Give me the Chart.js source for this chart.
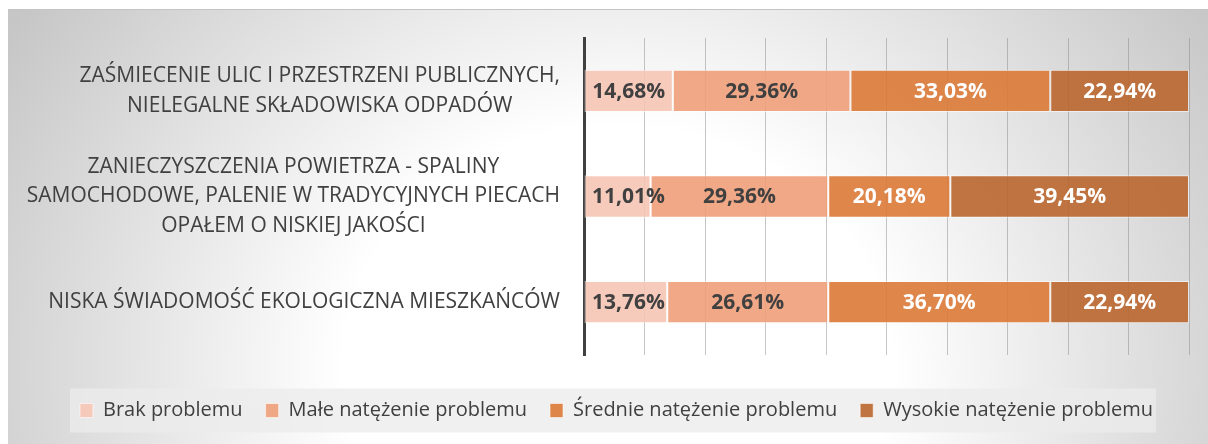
<!DOCTYPE html>
<html lang="pl">
<head>
<meta charset="utf-8">
<title>Problemy środowiskowe</title>
<script src="https://cdn.jsdelivr.net/npm/chart.js@4.4.1/dist/chart.umd.min.js"></script>
<style>
  html, body { margin: 0; padding: 0; background: #fff; }
  #wrap { position: relative; width: 1208px; height: 444px; overflow: hidden; }
  #bg {
    position: absolute; left: 8px; top: 9px; right: 0; bottom: 0;
    border-top: 1px solid #c4c4c4;
    background: radial-gradient(ellipse 720px 640px at 610px 360px, #ffffff 38%, #c6c6c6 100%);
  }
  canvas { position: absolute; left: 0; top: 0; }
</style>
</head>
<body>
<div id="wrap">
  <div id="bg"></div>
  <canvas id="chart" width="1208" height="444"></canvas>
</div>
<script>
// categories, one array of lines per bar
const categories = [
  ["ZAŚMIECENIE ULIC I PRZESTRZENI PUBLICZNYCH,", "NIELEGALNE SKŁADOWISKA ODPADÓW"],
  ["ZANIECZYSZCZENIA POWIETRZA - SPALINY", "SAMOCHODOWE, PALENIE W TRADYCYJNYCH PIECACH", "OPAŁEM O NISKIEJ JAKOŚCI"],
  ["NISKA ŚWIADOMOŚĆ EKOLOGICZNA MIESZKAŃCÓW"]
];

const seriesNames = [
  "Brak problemu",
  "Małe natężenie problemu",
  "Średnie natężenie problemu",
  "Wysokie natężenie problemu"
];

// percentages per category
const brak = [14.68, 11.01, 13.76];
const male = [29.36, 29.36, 26.61];
const srednie = [33.03, 20.18, 36.70];
const wysokie = [22.94, 39.45, 22.94];

const xTicks = [0, 10, 20, 30, 40, 50, 60, 70, 80, 90, 100];

const barColors = [
  "rgba(246, 197, 181, 0.9)",
  "rgba(240, 159, 121, 0.9)",
  "rgba(220, 121, 55, 0.9)",
  "rgba(186, 102, 46, 0.9)"
];
const labelColors = ["#404040", "#404040", "#ffffff", "#ffffff"];

Chart.defaults.font.family = "'Open Sans', sans-serif";

const formatPct = (v) => v.toFixed(2).replace(".", ",") + "%";

const makeSet = (i, data) => ({
  label: seriesNames[i],
  data: data,
  backgroundColor: barColors[i],
  borderColor: "rgba(255, 255, 255, 0.55)",
  borderWidth: 1,
  borderSkipped: false,
  categoryPercentage: 1,
  barPercentage: 0.4
});

// light panel behind the legend row
const legendBox = {
  id: "legendBox",
  beforeDraw(chart) {
    const lg = chart.legend;
    if (!lg || !lg.legendHitBoxes.length) return;
    const boxes = lg.legendHitBoxes;
    const first = boxes[0];
    const last = boxes[boxes.length - 1];
    const midY = first.top + first.height / 2;
    const { ctx } = chart;
    ctx.save();
    ctx.fillStyle = "rgba(235, 235, 235, 0.77)";
    ctx.fillRect(first.left - 10, midY - 22, last.left + last.width + 3 - (first.left - 10), 44);
    ctx.restore();
  }
};

// multi-line category names, lines centred inside a right-aligned block
const categoryLabels = {
  id: "categoryLabels",
  afterDraw(chart) {
    const { ctx, chartArea } = chart;
    const yScale = chart.scales.y;
    const lineH = 29.5;
    ctx.save();
    ctx.font = "21px 'Open Sans'";
    ctx.fillStyle = "#404040";
    ctx.textAlign = "center";
    ctx.textBaseline = "middle";
    categories.forEach((lines, i) => {
      const widest = Math.max(...lines.map((l) => ctx.measureText(l).width));
      const cx = chartArea.left - 24 - widest / 2;
      const cy = yScale.getPixelForValue(i);
      lines.forEach((line, k) => {
        ctx.fillText(line, cx, cy + (k - (lines.length - 1) / 2) * lineH);
      });
    });
    ctx.restore();
  }
};

// percentage written in the middle of each segment, kept clear of the axis line
const valueLabels = {
  id: "valueLabels",
  afterDatasetsDraw(chart) {
    const { ctx, chartArea } = chart;
    ctx.save();
    ctx.font = "bold 21px 'Open Sans'";
    ctx.textAlign = "center";
    ctx.textBaseline = "middle";
    chart.data.datasets.forEach((ds, i) => {
      ctx.fillStyle = labelColors[i];
      chart.getDatasetMeta(i).data.forEach((bar, j) => {
        const { x, y, base } = bar.getProps(["x", "y", "base"], true);
        const text = formatPct(ds.data[j]);
        const half = ctx.measureText(text).width / 2;
        const cx = Math.max((x + base) / 2, chartArea.left + 8 + half);
        ctx.fillText(text, cx, y + 1);
      });
    });
    ctx.restore();
  }
};

const ctx = document.getElementById("chart").getContext("2d");

new Chart(ctx, {
  type: "bar",
  data: {
    labels: categories,
    datasets: [makeSet(0, brak), makeSet(1, male), makeSet(2, srednie), makeSet(3, wysokie)]
  },
  options: {
    indexAxis: "y",
    responsive: false,
    animation: false,
    layout: { padding: { left: 44, right: 19, top: 38, bottom: 13.5 } },
    scales: {
      x: {
        stacked: true,
        min: xTicks[0],
        max: xTicks[xTicks.length - 1],
        afterBuildTicks: (s) => { s.ticks = xTicks.map((v) => ({ value: v })); },
        ticks: { display: false },
        grid: { color: "rgba(128, 128, 128, 0.45)", drawTicks: false },
        border: { display: false },
        afterFit: (s) => { s.height = 22.5; }
      },
      y: {
        stacked: true,
        ticks: { display: false },
        grid: { display: false, drawTicks: false },
        border: { color: "#404040", width: 3 },
        afterFit: (s) => { s.width = 540; }
      }
    },
    plugins: {
      legend: {
        position: "bottom",
        labels: {
          boxWidth: 13,
          boxHeight: 14,
          padding: 23,
          color: "#404040",
          font: { size: 20 }
        }
      },
      tooltip: { enabled: false }
    }
  },
  plugins: [legendBox, categoryLabels, valueLabels]
});
</script>
</body>
</html>
